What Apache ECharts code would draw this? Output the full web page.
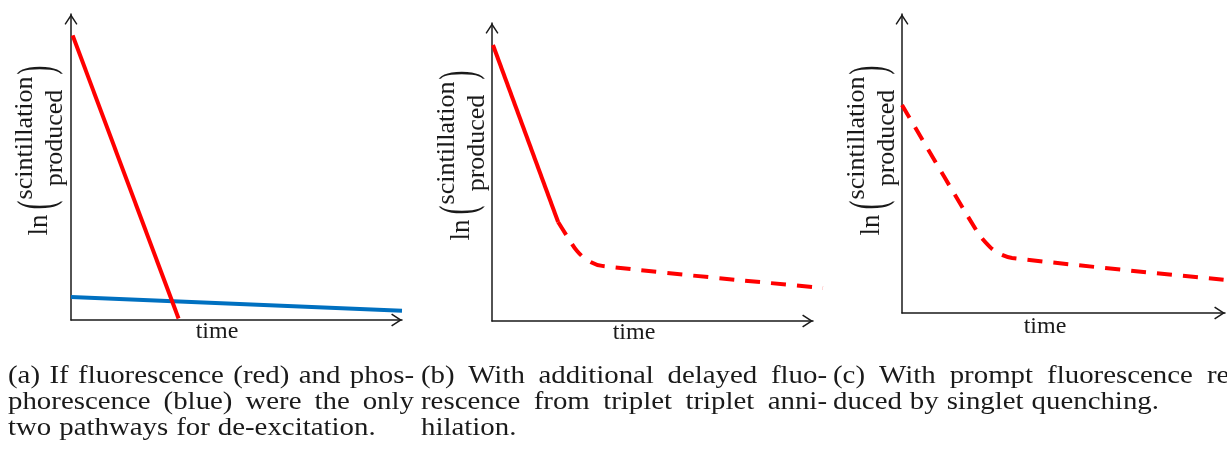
<!DOCTYPE html>
<html>
<head>
<meta charset="utf-8">
<script src="https://cdn.jsdelivr.net/npm/echarts@6/dist/echarts.min.js"></script>
<style>
  html, body { margin: 0; padding: 0; background: #ffffff; }
  #chart { width: 1227px; height: 449px; }
</style>
</head>
<body>
<div id="chart"></div>
<script>
// Schematic decay curves: x = time, y = ln(scintillation produced), both in arbitrary units.
// The drawn axes run from 0 to 10; some curves continue a little past the end of the time axis.
const fluorescenceA    = [[0.05, 9.30], [3.25, 0.05]];
const phosphorescenceA = [[0.00, 0.75], [10.00, 0.30]];
const promptB   = [[0.03, 9.26], [2.06, 3.32]];
const delayedB  = [[2.06, 3.32], [2.37, 2.79], [2.65, 2.35], [2.96, 2.05], [3.43, 1.85], [10.31, 1.11]];
const quenchedC = [[0.00, 6.96], [2.35, 2.68], [2.72, 2.21], [2.97, 2.01], [3.41, 1.84], [10.06, 1.10]];

const AXIS_MAX = 10;     // end of the drawn axes
const PLOT_X_MAX = 10.5; // room for curves that run past the arrow head

const xAxisTitle = 'time';
const yAxisTitle = { prefix: 'ln', upper: 'scintillation', lower: 'produced' };

const captionA = ['(a) If fluorescence (red) and phos-', 'phorescence (blue) were the only', 'two pathways for de-excitation.'];
const captionB = ['(b) With additional delayed fluo-', 'rescence from triplet triplet anni-', 'hilation.'];
const captionC = ['(c) With prompt fluorescence re-', 'duced by singlet quenching.'];

const RED = '#ff0000';
const BLUE = '#0070c0';
const INK = '#1a1a1a';
const SERIF = "'Liberation Serif', 'Times New Roman', serif";
const CHART_WIDTH = 1227;

// Open chevron used as the arrow head on every axis (tip at the top of the box).
const CHEVRON = 'path://M6.5,0 L13,10 L11.8,10.9 L6.5,2.7 L1.2,10.9 L0,10 Z';

const panels = [
  { frame: { left: 71,  top: 14, width: 331, height: 306 }, label: [40, 150],  time: [217, 332],  caption: { x: 8,   w: 406, lines: captionA } },
  { frame: { left: 492, top: 23, width: 321, height: 298 }, label: [462, 155], time: [634, 333],  caption: { x: 421, w: 406, lines: captionB } },
  { frame: { left: 902, top: 14, width: 323, height: 299 }, label: [872, 150], time: [1045, 327], caption: { x: 833, w: 406, lines: captionC } }
];

function frameAxis(gridIndex) {
  return {
    type: 'value', min: 0, max: AXIS_MAX, gridIndex: gridIndex,
    splitLine: { show: false }, axisTick: { show: false }, axisLabel: { show: false },
    axisLine: {
      show: true, onZero: false,
      lineStyle: { color: INK, width: 1.5 },
      symbol: ['none', CHEVRON], symbolSize: [13, 10.9], symbolOffset: [0, -5.4]
    }
  };
}

function plotAxis(gridIndex, max) {
  return {
    type: 'value', min: 0, max: max, gridIndex: gridIndex, show: false,
    splitLine: { show: false }
  };
}

// Each panel: one grid that carries the visible axes, and a plotting grid with the
// same origin and scale, widened (within the canvas) so curves may run past the arrow head.
const grids = [], xAxes = [], yAxes = [];
panels.forEach(function (p, i) {
  const f = p.frame;
  const pxPerUnit = f.width / AXIS_MAX;
  const plotWidth = Math.min(pxPerUnit * PLOT_X_MAX, CHART_WIDTH - f.left);
  grids.push({ left: f.left, top: f.top, width: f.width, height: f.height });
  grids.push({ left: f.left, top: f.top, width: plotWidth, height: f.height });
  xAxes.push(frameAxis(2 * i));
  yAxes.push(frameAxis(2 * i));
  xAxes.push(plotAxis(2 * i + 1, plotWidth / pxPerUnit));
  yAxes.push(plotAxis(2 * i + 1, AXIS_MAX));
});

function lineSeries(data, panel, color, dash, smooth, dashOffset) {
  const idx = 2 * panel + 1;
  return {
    type: 'line', data: data, xAxisIndex: idx, yAxisIndex: idx,
    symbol: 'none', showSymbol: false, clip: false, smooth: smooth || false,
    silent: true, animation: false,
    lineStyle: { color: color, width: 4, type: dash || 'solid', dashOffset: dashOffset || 0, cap: 'butt' }
  };
}

function textEl(x, y, text, size, align, extra) {
  return Object.assign({
    type: 'text', x: x, y: y, silent: true,
    style: { text: text, fontFamily: SERIF, fontSize: size, fill: INK, align: align || 'center', verticalAlign: 'middle' }
  }, extra || {});
}

// Stacked, rotated axis title: ln( scintillation / produced ), with tall thin brackets
function yTitle(cx, cy) {
  return {
    type: 'group', x: cx, y: cy, rotation: Math.PI / 2, silent: true,
    children: [
      textEl(-75, 0, yAxisTitle.prefix, 27),
      textEl(-55, -1, '(', 27, 'center', { scaleY: 1.85 }),
      textEl(12, -15, yAxisTitle.upper, 26),
      textEl(12, 15, yAxisTitle.lower, 26),
      textEl(80, -1, ')', 27, 'center', { scaleY: 1.85 })
    ]
  };
}

// Justified caption lines; the last line of each caption keeps natural spacing.
const measureCtx = document.createElement('canvas').getContext('2d');
const CAPTION_SIZE = 26;
const CAPTION_STRETCH = 1.11;
function captionEls(cap, yFirst, lineGap) {
  measureCtx.font = CAPTION_SIZE + 'px ' + SERIF;
  const els = [];
  cap.lines.forEach(function (line, i) {
    const words = line.split(' ');
    const widths = words.map(function (w) { return measureCtx.measureText(w).width * CAPTION_STRETCH; });
    const total = widths.reduce(function (a, b) { return a + b; }, 0);
    const last = i === cap.lines.length - 1;
    const gap = last ? measureCtx.measureText(' ').width * CAPTION_STRETCH * 1.1 : (cap.w - total) / (words.length - 1);
    let x = cap.x;
    words.forEach(function (w, j) {
      els.push(textEl(x, yFirst + i * lineGap, w, CAPTION_SIZE, 'left', { scaleX: CAPTION_STRETCH }));
      x += widths[j] + gap;
    });
  });
  return els;
}

const graphics = [];
panels.forEach(function (p) {
  graphics.push(yTitle(p.label[0], p.label[1]));
  graphics.push(textEl(p.time[0], p.time[1], xAxisTitle, 24));
  captionEls(p.caption, 376, 26).forEach(function (e) { graphics.push(e); });
});

const chart = echarts.init(document.getElementById('chart'), null, { renderer: 'canvas' });
chart.setOption({
  animation: false,
  backgroundColor: '#ffffff',
  grid: grids,
  xAxis: xAxes,
  yAxis: yAxes,
  series: [
    lineSeries(phosphorescenceA, 0, BLUE),
    lineSeries(fluorescenceA, 0, RED),
    lineSeries(promptB, 1, RED),
    lineSeries(delayedB, 1, RED, [15, 11], 0.35),
    lineSeries(quenchedC, 2, RED, [15, 11], 0.3)
  ],
  graphic: graphics
});
</script>
</body>
</html>
